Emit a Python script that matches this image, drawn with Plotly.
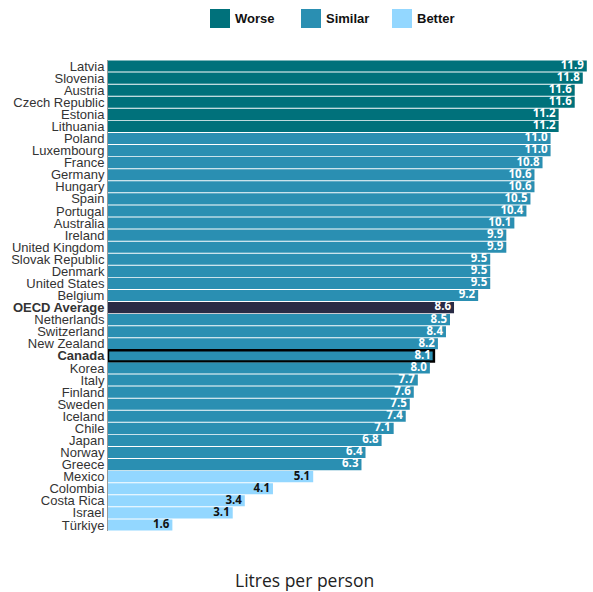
import plotly.graph_objects as go

countries = ["Latvia", "Slovenia", "Austria", "Czech Republic", "Estonia", "Lithuania",
             "Poland", "Luxembourg", "France", "Germany", "Hungary", "Spain", "Portugal",
             "Australia", "Ireland", "United Kingdom", "Slovak Republic", "Denmark",
             "United States", "Belgium", "OECD Average", "Netherlands", "Switzerland",
             "New Zealand", "Canada", "Korea", "Italy", "Finland", "Sweden", "Iceland",
             "Chile", "Japan", "Norway", "Greece", "Mexico", "Colombia", "Costa Rica",
             "Israel", "Türkiye"]
values = [11.9, 11.8, 11.6, 11.6, 11.2, 11.2, 11.0, 11.0, 10.8, 10.6, 10.6, 10.5, 10.4,
          10.1, 9.9, 9.9, 9.5, 9.5, 9.5, 9.2, 8.6, 8.5, 8.4, 8.2, 8.1, 8.0, 7.7, 7.6, 7.5,
          7.4, 7.1, 6.8, 6.4, 6.3, 5.1, 4.1, 3.4, 3.1, 1.6]
groups = ["Worse"] * 6 + ["Similar"] * 14 + ["Average"] + ["Similar"] * 13 + ["Better"] * 5
legend_items = ["Worse", "Similar", "Better"]

palette = {"Worse": "#00717B", "Similar": "#2A8FB2", "Better": "#93D7FF", "Average": "#292B45"}
text_palette = {"Worse": "white", "Similar": "white", "Better": "#111111", "Average": "white"}

bar_colors = [palette[g] for g in groups]
text_colors = [text_palette[g] for g in groups]
line_widths = [2.5 if c == "Canada" else 0 for c in countries]
line_colors = ["black" if c == "Canada" else "rgba(0,0,0,0)" for c in countries]
ticktext = [f"<b>{c}</b>" if c in ("OECD Average", "Canada") else c for c in countries]

fig = go.Figure()
fig.add_trace(go.Bar(
    y=countries, x=values, orientation="h",
    marker=dict(color=bar_colors, line=dict(width=line_widths, color=line_colors)),
    showlegend=False, hoverinfo="skip",
))
fig.add_trace(go.Scatter(
    y=countries, x=values, mode="text",
    text=[f"{v:.1f} " for v in values], textposition="middle left",
    textfont=dict(family="Open Sans", size=11.5, color=text_colors, weight="bold"),
    showlegend=False, hoverinfo="skip", cliponaxis=False,
))

n = len(countries)
fig.update_layout(
    width=593, height=592,
    margin=dict(l=108, r=5, t=60, b=61),
    paper_bgcolor="white", plot_bgcolor="white",
    bargap=0.08,
    showlegend=False,
    xaxis=dict(range=[0, 11.93], visible=False, fixedrange=True),
    yaxis=dict(range=[n - 0.5, -0.5], autorange=False, tickmode="array",
               tickvals=countries, ticktext=ticktext,
               tickfont=dict(family="Liberation Sans, Arial", size=13, color="#333333"),
               showline=True, linecolor="#999999", linewidth=1, ticks="", showgrid=False,
               fixedrange=True),
    font=dict(family="Open Sans"),
)

# Legend (drawn manually)
W, H = 593.0, 592.0
pw, ph = W - 108 - 5, H - 60 - 61
def px2x(px):
    return (px - 108) / pw
def py2y(py):
    return (H - 61 - py) / ph

leg_x = [210, 301, 392]
for name, x0 in zip(legend_items, leg_x):
    fig.add_shape(type="rect", xref="paper", yref="paper",
                  x0=px2x(x0), x1=px2x(x0 + 20), y0=py2y(28), y1=py2y(9),
                  fillcolor=palette[name], line=dict(width=0))
    fig.add_annotation(xref="paper", yref="paper", x=px2x(x0 + 23), y=py2y(18.5),
                       text=f"<b>{name}</b>", showarrow=False, xanchor="left", yanchor="middle",
                       font=dict(family="Liberation Sans, Arial", size=13, color="#111111"))

fig.add_annotation(xref="paper", yref="paper", x=px2x(304), y=py2y(580),
                   text="Litres per person", showarrow=False, xanchor="center", yanchor="middle",
                   font=dict(family="Open Sans", size=17.5, color="#222222"))

fig.write_html("out.html")
